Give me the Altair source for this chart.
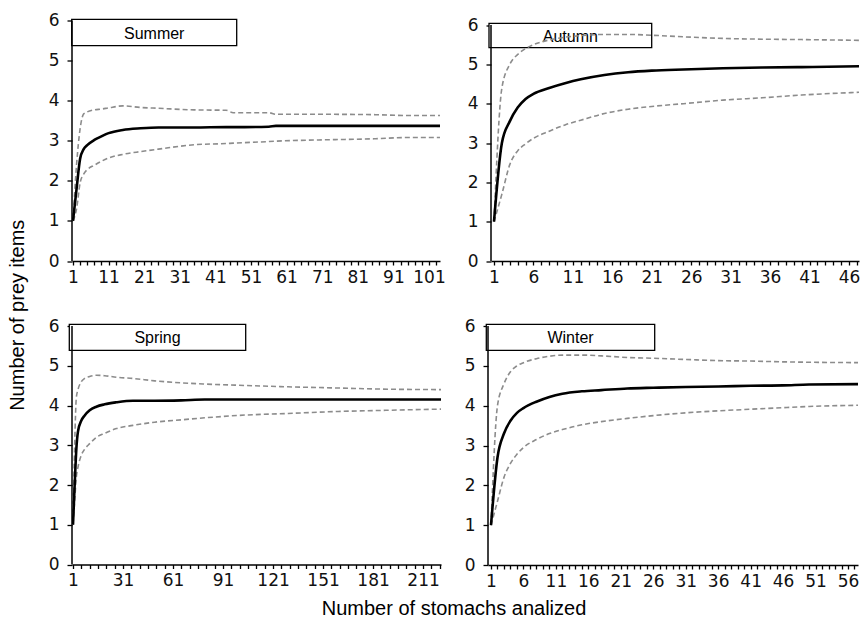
import altair as alt
import pandas as pd

# ---------------- data ----------------
summer_n     = [1, 2, 3, 4, 5, 7, 9, 11, 15, 20, 25, 35, 44, 46, 56, 58, 70, 86, 95, 104.1]
summer_mean  = [1.0, 1.8, 2.55, 2.79, 2.89, 3.02, 3.11, 3.19, 3.27, 3.31, 3.33, 3.33, 3.34, 3.34, 3.35, 3.37, 3.37, 3.37, 3.37, 3.37]
summer_upper = [1.0, 2.4, 3.3, 3.67, 3.72, 3.77, 3.79, 3.82, 3.87, 3.83, 3.81, 3.77, 3.76, 3.70, 3.70, 3.66, 3.66, 3.65, 3.63, 3.63]
summer_lower = [1.0, 1.3, 1.95, 2.17, 2.28, 2.39, 2.49, 2.57, 2.66, 2.73, 2.79, 2.90, 2.93, 2.94, 2.98, 2.99, 3.02, 3.05, 3.08, 3.08]

autumn_n     = [1, 2, 3, 4, 5, 6, 8, 10, 12, 15, 18, 21, 25, 30, 35, 40, 47.3]
autumn_mean  = [1.0, 3.0, 3.55, 3.9, 4.12, 4.25, 4.4, 4.52, 4.62, 4.73, 4.8, 4.84, 4.87, 4.9, 4.92, 4.93, 4.95]
autumn_upper = [1.0, 4.4, 5.0, 5.25, 5.4, 5.5, 5.62, 5.69, 5.73, 5.76, 5.76, 5.74, 5.7, 5.66, 5.64, 5.63, 5.61]
autumn_lower = [1.0, 1.7, 2.45, 2.8, 2.98, 3.12, 3.3, 3.46, 3.58, 3.75, 3.86, 3.93, 4.0, 4.09, 4.15, 4.22, 4.29]

spring_n     = [1, 2, 3, 4, 6, 8, 11, 15, 20, 27, 37, 50, 66, 80, 100, 130, 160, 190, 222]
spring_mean  = [1.0, 2.0, 2.9, 3.35, 3.62, 3.75, 3.88, 3.97, 4.03, 4.08, 4.12, 4.12, 4.13, 4.15, 4.15, 4.15, 4.15, 4.15, 4.15]
spring_upper = [1.0, 3.0, 4.2, 4.4, 4.6, 4.68, 4.73, 4.76, 4.75, 4.71, 4.68, 4.62, 4.57, 4.54, 4.51, 4.47, 4.44, 4.41, 4.40]
spring_lower = [1.0, 1.6, 2.2, 2.45, 2.75, 2.9, 3.04, 3.2, 3.3, 3.42, 3.5, 3.58, 3.64, 3.69, 3.75, 3.80, 3.85, 3.88, 3.91]

winter_n     = [1, 2, 3, 4, 5, 6, 8, 10, 12, 15, 18, 22, 26, 31, 36, 41, 46, 50, 57.6]
winter_mean  = [1.0, 2.7, 3.3, 3.62, 3.82, 3.94, 4.1, 4.22, 4.3, 4.36, 4.39, 4.43, 4.45, 4.47, 4.48, 4.5, 4.51, 4.53, 4.54]
winter_upper = [1.0, 4.0, 4.55, 4.85, 5.0, 5.08, 5.18, 5.24, 5.27, 5.27, 5.25, 5.21, 5.19, 5.16, 5.13, 5.12, 5.10, 5.09, 5.08]
winter_lower = [1.0, 1.6, 2.2, 2.55, 2.78, 2.95, 3.15, 3.3, 3.4, 3.52, 3.6, 3.68, 3.75, 3.82, 3.87, 3.91, 3.95, 3.98, 4.01]

y_ticks = [0, 1, 2, 3, 4, 5, 6]

LABEL_FONT = "DejaVu Sans"
TITLE_FONT = "Liberation Sans"
DASH_COLOR = "#8c8c8c"
LABEL_SIZE = 17


def panel(name, n, mean, upper, lower, xdom, ymax, w, h,
          tick_step, label_step, box):
    df = pd.DataFrame({"n": n, "mean": mean, "upper": upper, "lower": lower})
    ticks = list(range(1, int(xdom[1]) + 1, tick_step))
    xenc = alt.X(
        "n:Q",
        scale=alt.Scale(domain=xdom, nice=False, zero=False),
        axis=alt.Axis(
            values=ticks,
            labelExpr=f"(datum.value - 1) % {label_step} == 0 ? datum.label : ''",
            title=None, grid=False, tickSize=4, tickWidth=1.3, tickColor="black",
            domainColor="black", domainWidth=1.5, labelPadding=4,
            labelFont=LABEL_FONT, labelFontSize=LABEL_SIZE, labelColor="#111111",
            labelOverlap=False, labelFlush=False, labelBound=False,
        ),
    )
    yscale = alt.Scale(domain=[0, ymax], nice=False, zero=True)
    yaxis = alt.Axis(
        values=y_ticks, title=None, grid=False, domain=False,
        tickSize=5, tickWidth=1.3, tickColor="black", labelPadding=8,
        labelFont=LABEL_FONT, labelFontSize=LABEL_SIZE, labelColor="#111111",
    )
    bx, by, bw, bh = box
    box_df = pd.DataFrame({"t": [name]})
    rect = alt.Chart(box_df).mark_rect(
        fill="white", stroke="black", strokeWidth=1.3
    ).encode(x=alt.value(bx), x2=alt.value(bx + bw),
             y=alt.value(by), y2=alt.value(by + bh))
    txt = alt.Chart(box_df).mark_text(
        font=TITLE_FONT, fontSize=16, color="black", baseline="middle", align="center"
    ).encode(x=alt.value(bx + bw / 2), y=alt.value(by + bh / 2 + 1), text="t:N")
    yline = alt.Chart(box_df).mark_rule(color="black", strokeWidth=1.5).encode(
        x=alt.value(0), y=alt.datum(0, scale=yscale, axis=yaxis), y2=alt.datum(6)
    )
    base = alt.Chart(df)
    up = base.mark_line(color=DASH_COLOR, strokeWidth=1.6, strokeDash=[5, 3],
                        interpolate="monotone", clip=True).encode(
        x=xenc, y=alt.Y("upper:Q", scale=yscale, axis=yaxis))
    lo = base.mark_line(color=DASH_COLOR, strokeWidth=1.6, strokeDash=[5, 3],
                        interpolate="monotone", clip=True).encode(
        x=xenc, y=alt.Y("lower:Q", scale=yscale, axis=yaxis))
    me = base.mark_line(color="black", strokeWidth=2.6,
                        interpolate="monotone", clip=True).encode(
        x=xenc, y=alt.Y("mean:Q", scale=yscale, axis=yaxis))
    return alt.layer(rect, txt, yline, up, lo, me).properties(width=w, height=h)


summer = panel("Summer", summer_n, summer_mean, summer_upper, summer_lower,
               [0.72, 104.09], 6, 368, 240.5, 2, 10, (-0.3, -1.2, 165, 26.4))
autumn = panel("Autumn", autumn_n, autumn_mean, autumn_upper, autumn_lower,
               [0.62, 47.27], 6.115, 368, 240.5, 1, 5, (-2, 2.8, 162.7, 24.4))
spring = panel("Spring", spring_n, spring_mean, spring_upper, spring_lower,
               [0.4, 221.75], 6, 369, 238.5, 5, 30, (-2.7, -1.7, 176.4, 26))
winter = panel("Winter", winter_n, winter_mean, winter_upper, winter_lower,
               [0.538, 57.54], 6, 370, 239, 1, 5, (-1.7, -1.7, 168.4, 26))

row1 = alt.hconcat(summer, autumn, spacing=21)
row2 = alt.hconcat(spring, winter, spacing=23)

grid = alt.vconcat(row1, row2, spacing=31.5).properties(
    title=alt.TitleParams("Number of stomachs analized", orient="bottom",
                          anchor="middle", font=TITLE_FONT, fontSize=20,
                          fontWeight="normal", color="black", offset=10)
)

chart = alt.hconcat(grid).properties(
    title=alt.TitleParams("Number of prey items", orient="left",
                          anchor="middle", font=TITLE_FONT, fontSize=20,
                          fontWeight="normal", color="black", offset=20),
    padding={"left": 8, "top": 11.5, "right": 0, "bottom": 0},
).configure_view(stroke=None)

chart.save("out.html", embed_options={"renderer": "svg", "actions": False})
